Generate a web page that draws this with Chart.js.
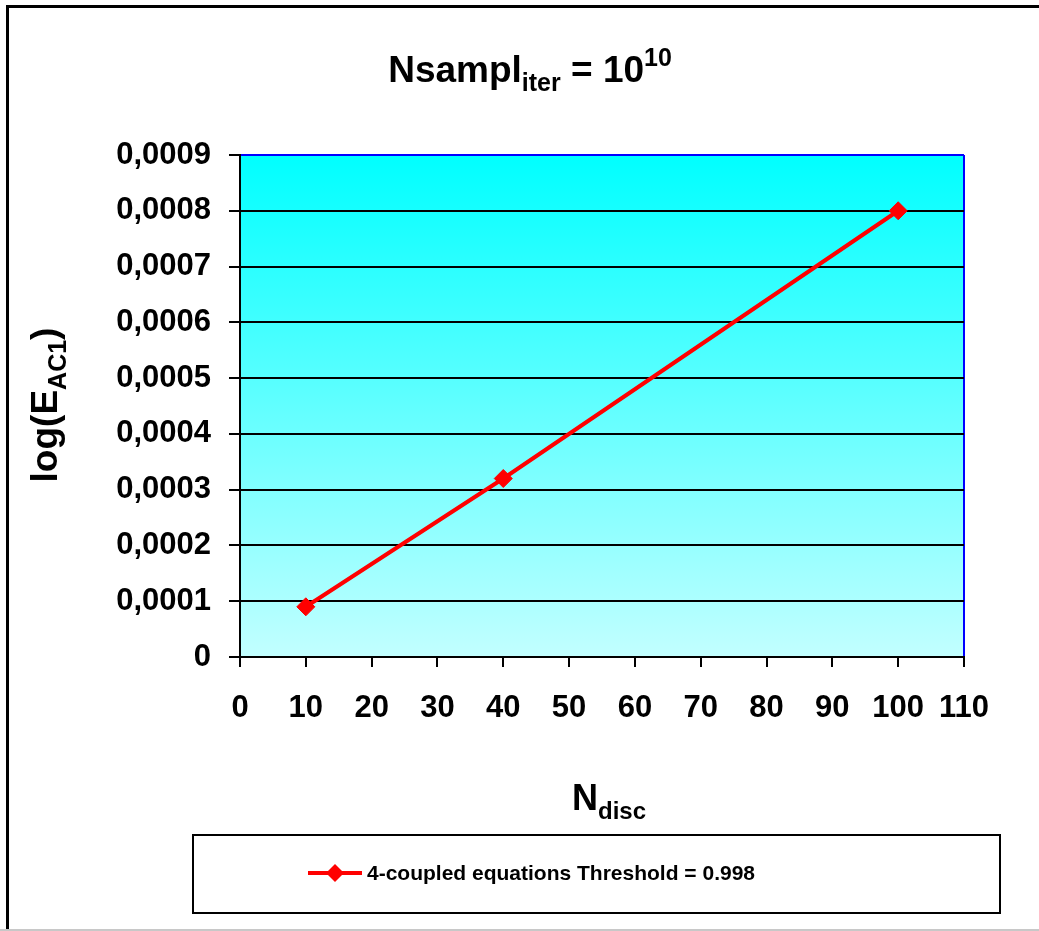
<!DOCTYPE html>
<html>
<head>
<meta charset="utf-8">
<script src="https://cdn.jsdelivr.net/npm/chart.js@4/dist/chart.umd.min.js"></script>
<style>
  html, body { margin: 0; padding: 0; background: #ffffff; }
  #wrap { width: 1039px; height: 931px; position: relative; }
</style>
</head>
<body>
<div id="wrap"><canvas id="c" width="1039" height="931"></canvas></div>
<script>
// ---- data ----
const nDisc = [10, 40, 100];
const errValues = [0.00009, 0.00032, 0.0008];
const seriesLabel = '4-coupled equations Threshold = 0.998';
const yTickLabels = ['0', '0,0001', '0,0002', '0,0003', '0,0004', '0,0005', '0,0006', '0,0007', '0,0008', '0,0009'];
const xTickLabels = ['0', '10', '20', '30', '40', '50', '60', '70', '80', '90', '100', '110'];
const titleParts = [['Nsampl', 'n'], ['iter', 'sub'], [' = 10', 'n'], ['10', 'sup']];
const yTitleParts = [['log(E', 'n'], ['AC1', 'sub'], [')', 'n']];
const xTitleParts = [['N', 'n'], ['disc', 'sub']];

const FONT = "'Liberation Sans', Arial, Helvetica, sans-serif";

function richWidth(ctx, parts, big, small) {
  let w = 0;
  for (const [t, k] of parts) {
    ctx.font = 'bold ' + (k === 'n' ? big : small) + 'px ' + FONT;
    w += ctx.measureText(t).width;
  }
  return w;
}
function drawRich(ctx, parts, cx, baseY, big, small) {
  ctx.save();
  ctx.fillStyle = '#000';
  ctx.textBaseline = 'alphabetic';
  ctx.textAlign = 'left';
  let x = cx - richWidth(ctx, parts, big, small) / 2;
  for (const [t, k] of parts) {
    ctx.font = 'bold ' + (k === 'n' ? big : small) + 'px ' + FONT;
    const dy = k === 'sub' ? big * 0.24 : (k === 'sup' ? -big * 0.42 : 0);
    ctx.fillText(t, x, baseY + dy);
    x += ctx.measureText(t).width;
  }
  ctx.restore();
}

const decor = {
  id: 'decor',
  beforeDraw(chart) {
    const { ctx, chartArea: a } = chart;
    ctx.save();
    const g = ctx.createLinearGradient(0, a.top, 0, a.bottom);
    g.addColorStop(0, '#00FFFF');
    g.addColorStop(1, '#C2FFFF');
    ctx.fillStyle = g;
    ctx.fillRect(a.left, a.top, a.right - a.left, a.bottom - a.top);
    ctx.restore();
  },
  afterDraw(chart) {
    const { ctx } = chart;
    ctx.save();
    // outer frame
    ctx.fillStyle = '#000';
    ctx.fillRect(6, 5, 1033, 3);
    ctx.fillRect(6, 5, 3, 926);
    ctx.fillStyle = '#c8c8c8';
    ctx.fillRect(0, 929, 1039, 2);
    ctx.restore();

    drawRich(ctx, titleParts, 530, 82, 37, 25);
    drawRich(ctx, xTitleParts, 609, 810, 36, 24);
    ctx.save();
    ctx.translate(57, 405);
    ctx.rotate(-Math.PI / 2);
    drawRich(ctx, yTitleParts, 0, 0, 37, 25);
    ctx.restore();

    // legend
    ctx.save();
    ctx.strokeStyle = '#000';
    ctx.lineWidth = 2;
    ctx.strokeRect(193, 835, 807, 78);
    const ds = chart.data.datasets[0];
    ctx.strokeStyle = ds.borderColor;
    ctx.lineWidth = 4;
    ctx.beginPath();
    ctx.moveTo(308, 873);
    ctx.lineTo(362, 873);
    ctx.stroke();
    ctx.fillStyle = ds.pointBackgroundColor;
    ctx.beginPath();
    ctx.moveTo(335 - 9, 873);
    ctx.lineTo(335, 873 - 9);
    ctx.lineTo(335 + 9, 873);
    ctx.lineTo(335, 873 + 9);
    ctx.closePath();
    ctx.fill();
    ctx.fillStyle = '#000';
    ctx.font = 'bold 21px ' + FONT;
    ctx.textBaseline = 'middle';
    ctx.fillText(ds.label, 367, 874);
    ctx.restore();
  }
};

new Chart(document.getElementById('c'), {
  type: 'line',
  data: {
    datasets: [{
      label: seriesLabel,
      data: nDisc.map((x, i) => ({ x: x, y: errValues[i] })),
      borderColor: '#FF0000',
      backgroundColor: '#FF0000',
      pointBackgroundColor: '#FF0000',
      pointBorderColor: '#FF0000',
      borderWidth: 4,
      pointStyle: 'rectRot',
      pointRadius: 9,
      pointBorderWidth: 1,
      tension: 0,
      fill: false
    }]
  },
  options: {
    responsive: false,
    animation: false,
    devicePixelRatio: 1,
    layout: { padding: { left: 0, top: 155, right: 75, bottom: 0 } },
    plugins: { legend: { display: false }, title: { display: false }, tooltip: { enabled: false } },
    scales: {
      x: {
        type: 'linear',
        min: 0, max: 110,
        afterFit(s) { s.height = 274; },
        afterBuildTicks(s) { s.ticks = xTickLabels.map(v => ({ value: Number(v) })); },
        ticks: {
          autoSkip: false,
          maxRotation: 0,
          padding: 23,
          color: '#000',
          font: { family: FONT, size: 31, weight: 'bold' },
          callback: (v, i) => xTickLabels[i]
        },
        grid: {
          color: c => (c.tick && c.tick.value === 110) ? '#0000FF' : 'rgba(0,0,0,0)',
          lineWidth: 2,
          drawTicks: true,
          tickLength: 10,
          tickColor: '#000',
          tickWidth: 2
        },
        border: { display: true, color: '#000', width: 2 }
      },
      y: {
        min: 0, max: 0.0009,
        afterFit(s) { s.width = 240; },
        afterBuildTicks(s) { s.ticks = yTickLabels.map((t, i) => ({ value: i * 0.0001 })); },
        ticks: {
          autoSkip: false,
          padding: 18,
          color: '#000',
          font: { family: FONT, size: 31, weight: 'bold' },
          callback: (v, i) => yTickLabels[i]
        },
        grid: {
          color: c => (c.index === yTickLabels.length - 1) ? '#0000FF' : '#000',
          lineWidth: 2,
          drawTicks: true,
          tickLength: 11,
          tickColor: '#000',
          tickWidth: 2
        },
        border: { display: true, color: '#000', width: 2 }
      }
    }
  },
  plugins: [decor]
});
</script>
</body>
</html>
